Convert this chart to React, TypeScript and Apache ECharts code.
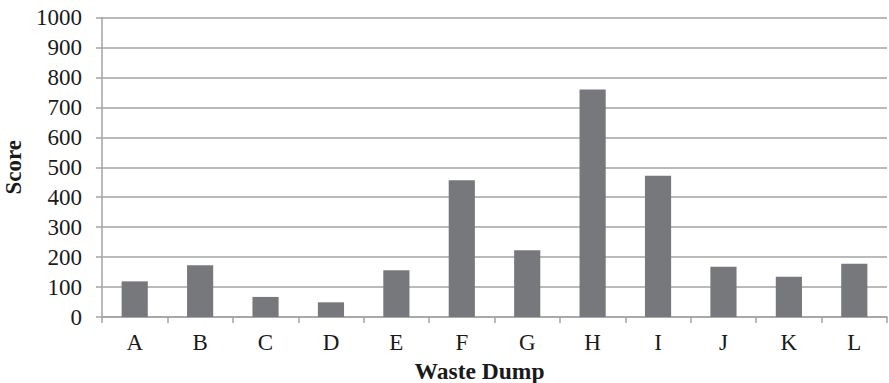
import React, { useEffect, useRef } from "react";
import * as echarts from "echarts";

// Scores per waste dump
const categories = ["A", "B", "C", "D", "E", "F", "G", "H", "I", "J", "K", "L"];
const scores = [119, 173, 67, 49, 156, 457, 223, 760, 472, 168, 134, 178];
const yTicks = [0, 100, 200, 300, 400, 500, 600, 700, 800, 900, 1000];

const FONT = "'Liberation Serif', 'Times New Roman', serif";
const GRID_COLOR = "#a3a3a3";
const TEXT_COLOR = "#1a1a1a";

export default function App() {
  const ref = useRef<HTMLDivElement>(null);

  useEffect(() => {
    if (!ref.current) return;
    const chart = echarts.init(ref.current, undefined, { renderer: "svg" });
    chart.setOption({
      animation: false,
      backgroundColor: "#ffffff",
      grid: {
        left: 102,
        right: 2,
        top: 17.5,
        bottom: 66,
        containLabel: false,
        outerBoundsMode: "none",
      },
      xAxis: {
        type: "category",
        data: categories,
        name: "Waste Dump",
        nameLocation: "middle",
        nameGap: 38,
        nameTextStyle: {
          fontFamily: FONT,
          fontSize: 23.5,
          fontWeight: "bold",
          color: TEXT_COLOR,
          // title sits a little left of the plot centre
          padding: [0, 30, 0, 0],
        },
        axisLine: { show: true, lineStyle: { color: GRID_COLOR, width: 1.5 } },
        axisTick: { show: true, length: 6, inside: false, lineStyle: { color: GRID_COLOR, width: 1.5 } },
        axisLabel: { fontFamily: FONT, fontSize: 23, color: TEXT_COLOR, margin: 14 },
      },
      yAxis: {
        type: "value",
        min: yTicks[0],
        max: yTicks[yTicks.length - 1],
        interval: 100,
        name: "Score",
        nameLocation: "middle",
        nameGap: 74,
        nameRotate: 90,
        nameTextStyle: { fontFamily: FONT, fontSize: 23, fontWeight: "bold", color: TEXT_COLOR },
        axisLine: { show: true, lineStyle: { color: GRID_COLOR, width: 1.5 } },
        axisTick: { show: true, length: 6, inside: false, lineStyle: { color: GRID_COLOR, width: 1.5 } },
        axisLabel: {
          fontFamily: FONT,
          fontSize: 23,
          color: TEXT_COLOR,
          margin: 20,
          formatter: (v: number) => String(v),
        },
        splitLine: { show: true, lineStyle: { color: GRID_COLOR, width: 1.5 } },
      },
      series: [
        {
          type: "bar",
          data: scores,
          barCategoryGap: "60%",
          itemStyle: { color: "#77787c" },
        },
      ],
    });
    return () => chart.dispose();
  }, []);

  return (
    <div
      ref={ref}
      style={{ position: "fixed", left: 0, top: 0, width: 889, height: 383, background: "#fff" }}
    />
  );
}
